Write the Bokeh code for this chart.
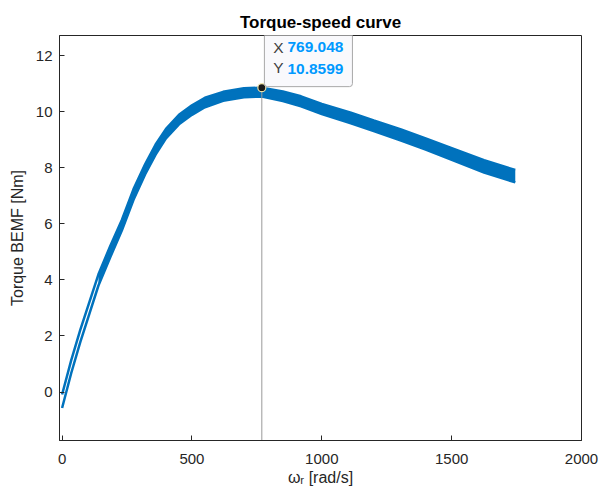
import numpy as np
from bokeh.plotting import figure
from bokeh.models import Range1d, FixedTicker, Label, ColumnDataSource
from bokeh.embed import file_html
from bokeh.resources import INLINE

# ---- data ----
speed = [0, 35, 70, 105, 140, 185, 230, 275, 320, 360, 400, 450, 500, 550, 620, 700, 769,
         850, 920, 1000, 1112, 1200, 1305, 1400, 1498, 1625, 1745]
torque_mid = [-0.33, 0.90, 2.00, 3.00, 4.00, 5.00, 5.95, 7.05, 7.95, 8.65, 9.22, 9.72,
              10.06, 10.33, 10.55, 10.68, 10.70, 10.55, 10.37, 10.10, 9.78, 9.50, 9.17,
              8.85, 8.50, 8.05, 7.70]
band_half = [0.24, 0.23, 0.22, 0.21, 0.20, 0.20, 0.19, 0.19, 0.18, 0.18, 0.17, 0.17,
             0.17, 0.17, 0.16, 0.16, 0.16, 0.17, 0.18, 0.18, 0.19, 0.19, 0.20,
             0.20, 0.21, 0.22, 0.22]
tip_x = 769.048
tip_y = 10.8599
tip_text_x = "769.048"
tip_text_y = "10.8599"
x_ticks = [0, 500, 1000, 1500, 2000]
y_ticks = [0, 2, 4, 6, 8, 10, 12]
x_label = "\u03c9\u1d63 [rad/s]"
y_label = "Torque BEMF [Nm]"

upper = [m + h for m, h in zip(torque_mid, band_half)]
lower = [m - h for m, h in zip(torque_mid, band_half)]
src = ColumnDataSource(dict(x=speed, up=upper, lo=lower))
fill_src = ColumnDataSource(dict(x=speed[4:], up=upper[4:], lo=lower[4:]))

FONT = "Liberation Sans"
AX = "#262626"
BLUE = "#0072BD"
Y0, Y1 = -1.73, 12.72

p = figure(width=600, height=495,
           x_range=Range1d(-10, 2000), y_range=Range1d(Y0, Y1),
           output_backend="svg", toolbar_location=None, tools="",
           min_border_left=59, min_border_right=19, min_border_top=35, min_border_bottom=55)
p.background_fill_color = "white"
p.border_fill_color = "white"
p.outline_line_color = AX
p.grid.visible = False

p.title.text = "Torque-speed curve"
p.title.align = "center"
p.title.text_font = FONT
p.title.text_font_size = "17px"
p.title.text_font_style = "bold"
p.title.text_color = "black"
p.title.standoff = 8

def style_axis(ax, ticks, lab_standoff, axlab_standoff):
    ax.ticker = FixedTicker(ticks=ticks)
    ax.major_tick_in = 5
    ax.major_tick_out = 0
    ax.minor_tick_line_color = None
    ax.axis_line_color = AX
    ax.major_tick_line_color = AX
    ax.major_label_text_font = FONT
    ax.major_label_text_color = AX
    ax.major_label_text_font_size = "15px"
    ax.major_label_standoff = lab_standoff
    ax.axis_label_text_font = FONT
    ax.axis_label_text_color = AX
    ax.axis_label_text_font_style = "normal"
    ax.axis_label_text_font_size = "16px"
    ax.axis_label_standoff = axlab_standoff

style_axis(p.xaxis[0], x_ticks, 13, 2)
style_axis(p.yaxis[0], y_ticks, 7, 7)
p.xaxis[0].axis_label = x_label
p.yaxis[0].axis_label = y_label

p.varea(x="x", y1="lo", y2="up", source=fill_src, fill_color=BLUE)
p.line(x="x", y="up", source=src, line_color=BLUE, line_width=2.5)
p.line(x="x", y="lo", source=src, line_color=BLUE, line_width=2.5)

# data tip
p.segment(x0=[tip_x], y0=[Y0], x1=[tip_x], y1=[tip_y], line_color="#9a9a9a", line_width=1)
p.scatter(x=[tip_x], y=[tip_y], size=8, fill_color="#1a1a1a", line_color="#efe3a8", line_width=1.2)

vals = Label(x=779, y=11.935, text=tip_text_x + "\n" + tip_text_y,
             text_font=FONT, text_font_size="15.5px", text_font_style="bold",
             text_color="#0099FF", text_align="left", text_baseline="middle",
             text_line_height=1.25,
             background_fill_color="#f9f9fc", background_fill_alpha=1.0,
             border_line_color="#a8a8a8", border_line_width=1, border_line_alpha=1.0,
             padding=(23, 9, 10, 10), border_radius=3, level="overlay")
p.add_layout(vals)
for lab_y, name in [(12.278, "X"), (11.568, "Y")]:
    p.add_layout(Label(x=813, y=lab_y, text=name, text_font=FONT, text_font_size="15.5px",
                       text_color="#404040", text_baseline="middle", level="overlay"))

open("out.html", "w").write(file_html(p, INLINE))
